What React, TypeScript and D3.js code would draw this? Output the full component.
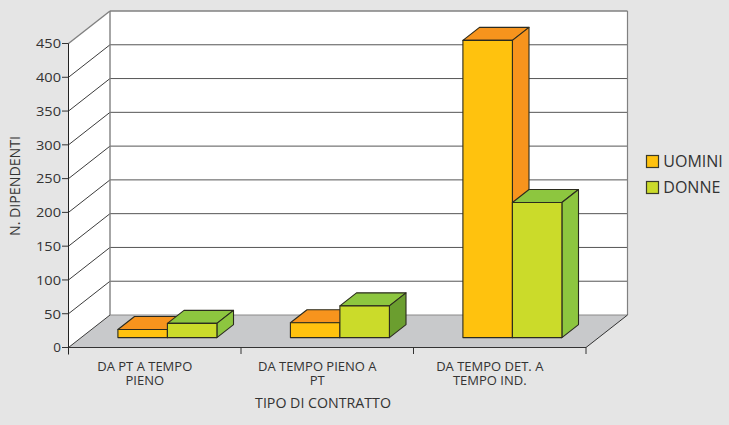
import React from "react";
import * as d3 from "d3";

// Contract-change counts by gender
const categories = [
  ["DA PT A TEMPO", "PIENO"],
  ["DA TEMPO PIENO A", "PT"],
  ["DA TEMPO DET. A", "TEMPO IND."],
];
const uomini = [12, 22, 440];
const donne = [21, 47, 200];
const seriesNames = ["UOMINI", "DONNE"];
const yTicks = d3.range(0, 451, 50);

// Chart frame and oblique projection
const W = 729;
const H = 425;
const x0 = 68.5;
const x1 = 586;
const yBase = 347.5;
const yTop = 43.5;
const depthX = 41.5;
const depthY = -32.5;
const barDepthStart = 0.305;
const barDepthEnd = 0.705;
const FONT = "'Open Sans', sans-serif";
const INK = "#333333";
const STROKE = "#2b2b1e";

const x = d3.scaleBand<number>().domain([0, 1, 2]).range([x0, x1]);
const y = d3.scaleLinear().domain([0, 450]).range([yBase, yTop]);

const pts = (p: number[][]) => p.map((d) => d.join(",")).join(" ");

function Bar({ left, width, value, front, top, side }: { left: number; width: number; value: number; front: string; top: string; side: string }) {
  const dx0 = barDepthStart * depthX;
  const dy0 = barDepthStart * depthY;
  const dx = (barDepthEnd - barDepthStart) * depthX;
  const dy = (barDepthEnd - barDepthStart) * depthY;
  const xl = left + dx0;
  const xr = xl + width;
  const yb = y(0) + dy0;
  const yt = y(value) + dy0;
  const common = { stroke: STROKE, strokeWidth: 1.1, strokeLinejoin: "round" as const };
  return (
    <g>
      <polygon points={pts([[xl, yt], [xl + dx, yt + dy], [xr + dx, yt + dy], [xr, yt]])} fill={top} {...common} />
      <polygon points={pts([[xr, yt], [xr + dx, yt + dy], [xr + dx, yb + dy], [xr, yb]])} fill={side} {...common} />
      <rect x={xl} y={yt} width={width} height={yb - yt} fill={front} {...common} />
    </g>
  );
}

export default function App() {
  const bw = 49.5;
  return (
    <svg width={W} height={H} viewBox={`0 0 ${W} ${H}`} style={{ position: "absolute", left: 0, top: 0, display: "block" }} fontFamily={FONT}>
      <rect width={W} height={H} fill="#e5e5e5" />

      {/* Walls and floor */}
      <polygon points={pts([[x0, y(450)], [x0 + depthX, y(450) + depthY], [x0 + depthX, yBase + depthY], [x0, yBase]])} fill="#ffffff" />
      <rect x={x0 + depthX} y={y(450) + depthY} width={x1 - x0} height={yBase - yTop} fill="#ffffff" />
      <polygon points={pts([[x0, yBase], [x1, yBase], [x1 + depthX, yBase + depthY], [x0 + depthX, yBase + depthY]])} fill="#c8c9cb" />

      {/* Gridlines across the side and back walls */}
      {yTicks.map((t) => (
        <g key={t} fill="none" stroke={t === 450 ? "#808080" : "#3c3c3c"} strokeWidth={t === 450 ? 1.4 : 1}>
          <line x1={x0} y1={y(t)} x2={x0 + depthX} y2={y(t) + depthY} />
          <line x1={x0 + depthX} y1={y(t) + depthY} x2={x1 + depthX} y2={y(t) + depthY} stroke={t === 0 ? "#8a8a8a" : t === 450 ? "#808080" : "#555555"} />
        </g>
      ))}
      <line x1={x0 + depthX} y1={y(450) + depthY} x2={x0 + depthX} y2={yBase + depthY} stroke="#808080" strokeWidth={1.4} />
      <line x1={x1 + depthX} y1={y(450) + depthY} x2={x1 + depthX} y2={yBase + depthY} stroke="#808080" strokeWidth={1.2} />
      <line x1={x1} y1={yBase} x2={x1 + depthX} y2={yBase + depthY} stroke="#333333" />

      {/* Front axes */}
      <line x1={x0} y1={y(450)} x2={x0} y2={yBase + 7} stroke="#222222" strokeWidth={1} />
      <line x1={x0} y1={yBase} x2={x1} y2={yBase} stroke="#333333" strokeWidth={1} />
      {yTicks.map((t) => (
        <g key={t}>
          <line x1={x0 - 6.5} y1={y(t)} x2={x0} y2={y(t)} stroke="#333333" />
          <text x={x0 - 7.5} y={y(t) + 4.8} textAnchor="end" fontSize={13.5} fill={INK} textLength={t === 0 ? undefined : t < 100 ? 17 : 25} lengthAdjust="spacingAndGlyphs">{t}</text>
        </g>
      ))}
      {[0, 1, 2].map((i) => (
        <line key={i} x1={x(i)! + x.bandwidth()} y1={yBase} x2={x(i)! + x.bandwidth()} y2={yBase + 6.5} stroke="#333333" />
      ))}

      {/* Paired 3D columns */}
      {[0, 1, 2].map((i) => {
        const c = x(i)! + x.bandwidth() / 2;
        return (
          <g key={i}>
            <Bar left={c - bw} width={bw} value={uomini[i]} front="#ffc20e" top="#f7941d" side="#f7941d" />
            <Bar left={c} width={bw} value={donne[i]} front="#cbdb2a" top="#8dc63f" side={i === 1 ? "#6b9e2f" : "#8dc63f"} />
          </g>
        );
      })}

      {/* Category labels */}
      {categories.map((lines, i) => (
        <text key={i} textAnchor="middle" fontSize={13} fill={INK}>
          {lines.map((l, j) => (
            <tspan key={j} x={x(i)! + x.bandwidth() / 2 - 10} y={370.7 + j * 14}>{l}</tspan>
          ))}
        </text>
      ))}

      {/* Axis titles */}
      <text x={323} y={408} textAnchor="middle" fontSize={14.2} fill={INK}>TIPO DI CONTRATTO</text>
      <text transform="translate(20,186) rotate(-90)" textAnchor="middle" fontSize={14.2} fill={INK}>N. DIPENDENTI</text>

      {/* Legend */}
      {seriesNames.map((s, i) => (
        <g key={s}>
          <rect x={646.5} y={155.5 + i * 26} width={12} height={12} fill={i === 0 ? "#ffc20e" : "#cbdb2a"} stroke="#3a3a2a" strokeWidth={1.2} />
          <text x={663.3} y={166.8 + i * 26} fontSize={16} fill={INK}>{s}</text>
        </g>
      ))}
    </svg>
  );
}
